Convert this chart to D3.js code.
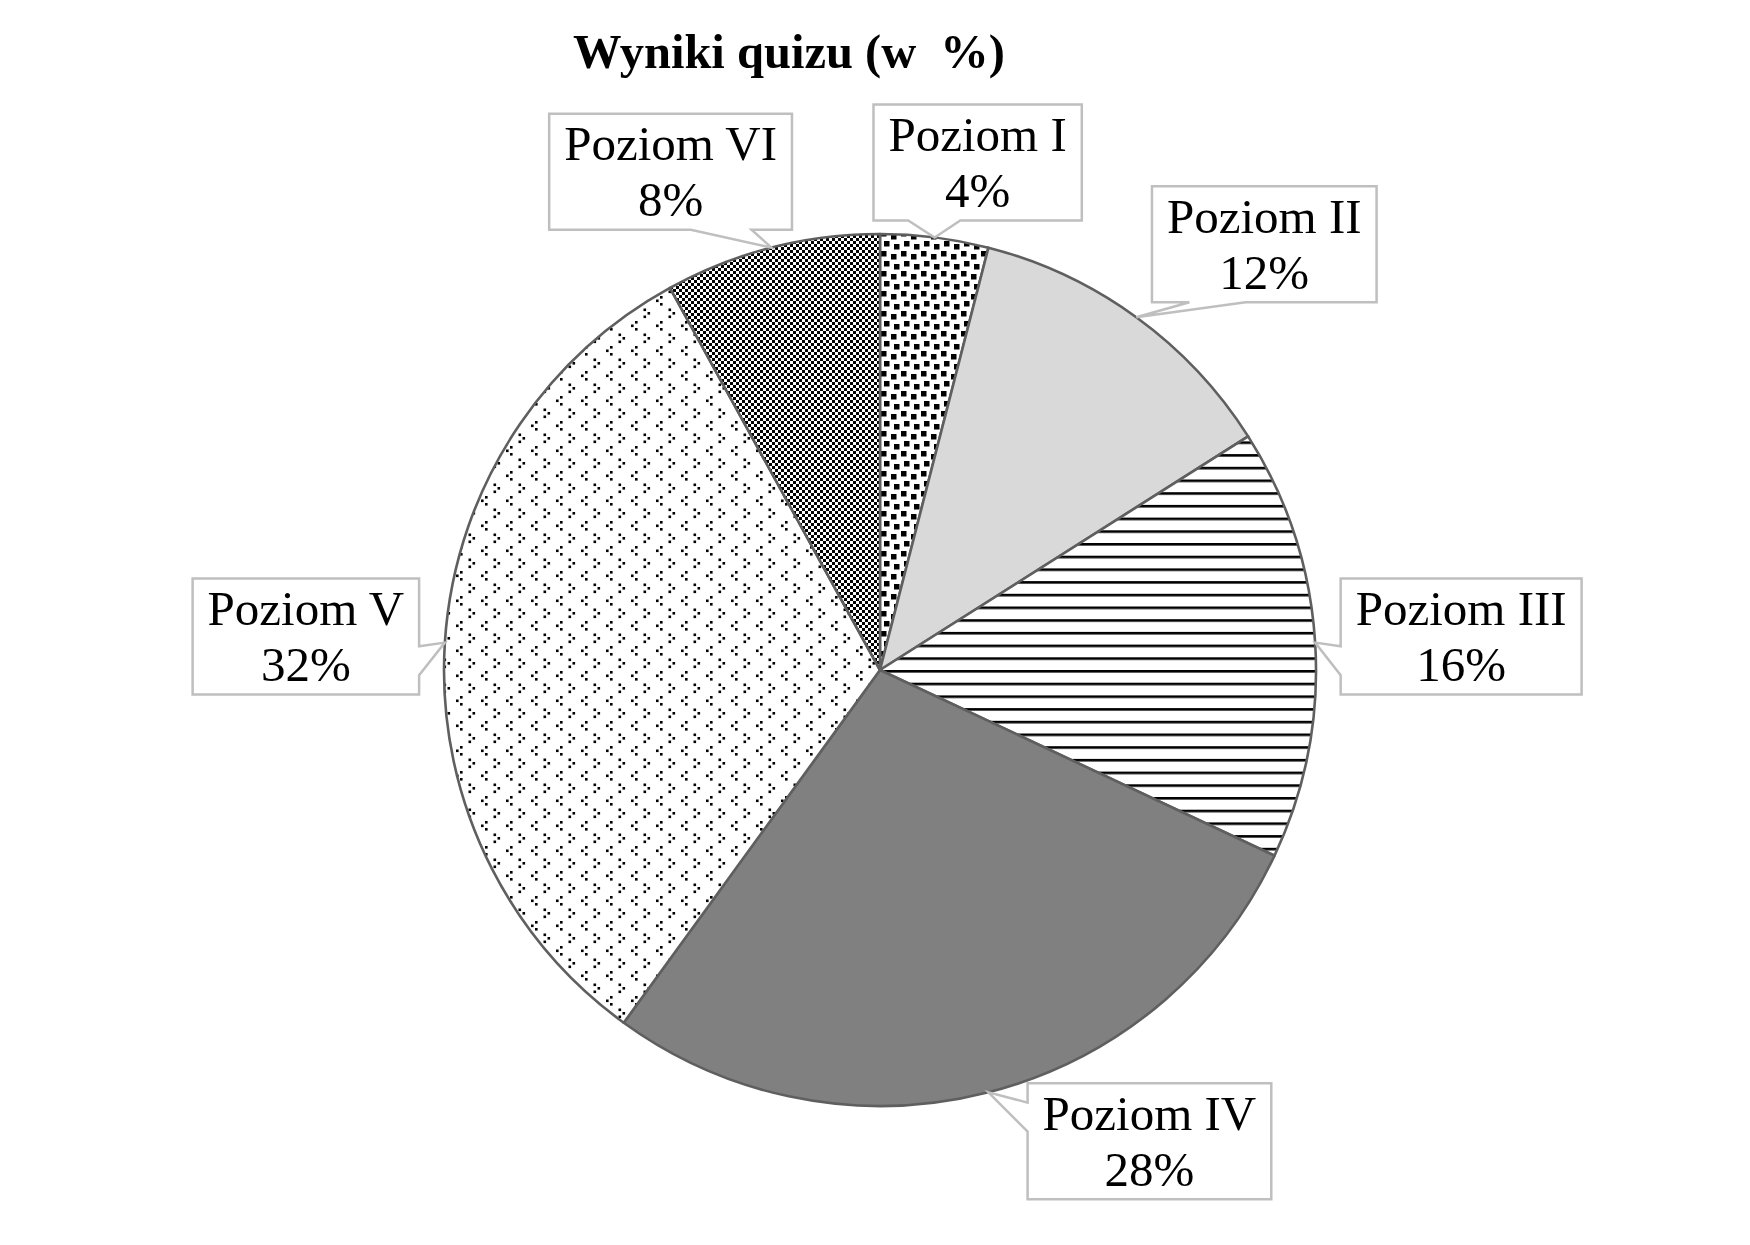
<!DOCTYPE html>
<html>
<head>
<meta charset="utf-8">
<script src="https://cdn.jsdelivr.net/npm/d3@7"></script>
<style>
  html, body { margin: 0; padding: 0; background: #fff; }
  svg { display: block; }
</style>
</head>
<body>
<script>
// ---- Data ----
const categories = ["Poziom I", "Poziom II", "Poziom III", "Poziom IV", "Poziom V", "Poziom VI"];
const values = [4, 12, 16, 28, 32, 8];
const titleParts = ["Wyniki quizu (w ", "%)"];

// ---- Styling / layout ----
const fills = ["url(#confetti)", "#d9d9d9", "url(#hlines)", "#808080", "url(#dots)", "url(#checker)"];
const labelOffsets = [[43, -75], [128, -73], [146, -6], [161, 49], [-139, -6], [-101, -76]];

const W = 1750, H = 1245;
const cx = 880, cy = 670, R = 436;
const fontFamily = "'Liberation Serif', 'Times New Roman', serif";

const svg = d3.select("body").append("svg").attr("width", W).attr("height", H);
svg.append("rect").attr("width", W).attr("height", H).attr("fill", "#fff");

// Patterns
const defs = svg.append("defs");
// checker (Poziom VI)
let p = defs.append("pattern").attr("id", "checker").attr("patternUnits", "userSpaceOnUse")
  .attr("width", 6).attr("height", 6);
p.append("rect").attr("width", 6).attr("height", 6).attr("fill", "#fff");
p.append("rect").attr("x", 0).attr("y", 0).attr("width", 3).attr("height", 3).attr("fill", "#000");
p.append("rect").attr("x", 3).attr("y", 3).attr("width", 3).attr("height", 3).attr("fill", "#000");
// horizontal lines (Poziom III)
p = defs.append("pattern").attr("id", "hlines").attr("patternUnits", "userSpaceOnUse")
  .attr("width", 10).attr("height", 12.7);
p.append("rect").attr("width", 10).attr("height", 12.7).attr("fill", "#fff");
p.append("rect").attr("x", 0).attr("y", 0).attr("width", 10).attr("height", 2.6).attr("fill", "#000");
// confetti (Poziom I)
p = defs.append("pattern").attr("id", "confetti").attr("patternUnits", "userSpaceOnUse")
  .attr("width", 20).attr("height", 20);
p.append("rect").attr("width", 20).attr("height", 20).attr("fill", "#fff");
[[1, 1], [11, 4], [4, 11], [14, 14]].forEach(([x, y]) =>
  p.append("rect").attr("x", x).attr("y", y).attr("width", 5.5).attr("height", 5.5).attr("fill", "#000"));
// small dot clusters (Poziom V)
p = defs.append("pattern").attr("id", "dots").attr("patternUnits", "userSpaceOnUse")
  .attr("width", 25).attr("height", 25);
p.append("rect").attr("width", 25).attr("height", 25).attr("fill", "#fff");
[[5, 1], [1, 4.5], [5, 8], [13.5, 13.5], [17.5, 17], [13.5, 20.5]].forEach(([x, y]) =>
  p.append("rect").attr("x", x).attr("y", y).attr("width", 2.6).attr("height", 2.6).attr("fill", "#000"));

// Title
const title = svg.append("text")
  .attr("x", 789).attr("y", 68)
  .attr("text-anchor", "middle")
  .attr("font-family", fontFamily)
  .attr("font-weight", "bold")
  .attr("font-size", 48.5)
  .attr("fill", "#000")
  .attr("xml:space", "preserve");
title.append("tspan").text(titleParts[0]);
title.append("tspan").attr("dx", 12).text(titleParts[1]);

// Pie
const pie = d3.pie().sort(null).value(d => d);
const arcs = pie(values);
const arc = d3.arc().innerRadius(0).outerRadius(R);

const g = svg.append("g").attr("transform", `translate(${cx},${cy})`);
g.selectAll("path.slice").data(arcs).join("path")
  .attr("class", "slice")
  .attr("d", arc)
  .attr("fill", (d, i) => fills[i])
  .attr("stroke", "#5f5f5f")
  .attr("stroke-width", 2.6)
  .attr("stroke-linejoin", "round");

// Callout labels
function calloutPath(bx, by, w, h, tx, ty) {
  const x0 = bx - w / 2, y0 = by - h / 2, x1 = bx + w / 2, y1 = by + h / 2;
  const dx = (tx - bx) / w, dy = (ty - by) / h;
  const pts = [];
  const tip = [tx, ty];
  if (Math.abs(dx) > Math.abs(dy)) {
    const ya = ty < by ? y0 + h * 2 / 12 : y0 + h * 7 / 12;
    const yb = ty < by ? y0 + h * 5 / 12 : y0 + h * 10 / 12;
    if (dx > 0) {
      pts.push([x0, y0], [x1, y0], [x1, ya], tip, [x1, yb], [x1, y1], [x0, y1]);
    } else {
      pts.push([x0, y0], [x1, y0], [x1, y1], [x0, y1], [x0, yb], tip, [x0, ya]);
    }
  } else {
    const xa = tx < bx ? x0 + w * 2 / 12 : x0 + w * 7 / 12;
    const xb = tx < bx ? x0 + w * 5 / 12 : x0 + w * 10 / 12;
    if (dy > 0) {
      pts.push([x0, y0], [x1, y0], [x1, y1], [xb, y1], tip, [xa, y1], [x0, y1]);
    } else {
      pts.push([x0, y0], [xa, y0], tip, [xb, y0], [x1, y0], [x1, y1], [x0, y1]);
    }
  }
  return "M" + pts.map(q => q.join(",")).join("L") + "Z";
}

const fontSize = 49, lineGap = 56, boxH = 116, padX = 15;
const labels = svg.append("g");
arcs.forEach((d, i) => {
  const a = (d.startAngle + d.endAngle) / 2;
  const tx = cx + R * Math.sin(a), ty = cy - R * Math.cos(a);
  const bx = tx + labelOffsets[i][0], by = ty + labelOffsets[i][1];
  const lg = labels.append("g");
  const path = lg.append("path");
  const t1 = lg.append("text")
    .attr("x", bx).attr("y", by - lineGap / 2 + 16.5)
    .attr("text-anchor", "middle")
    .attr("font-family", fontFamily).attr("font-size", fontSize).attr("fill", "#000")
    .text(categories[i]);
  const t2 = lg.append("text")
    .attr("x", bx).attr("y", by + lineGap / 2 + 16.5)
    .attr("text-anchor", "middle")
    .attr("font-family", fontFamily).attr("font-size", fontSize).attr("fill", "#000")
    .text(values[i] + "%");
  const tw = Math.max(t1.node().getComputedTextLength(), t2.node().getComputedTextLength());
  const w = tw + padX * 2;
  path.attr("d", calloutPath(bx, by, w, boxH, tx, ty))
    .attr("fill", "#fff")
    .attr("stroke", "#bfbfbf")
    .attr("stroke-width", 2.5)
    .attr("stroke-linejoin", "miter");
});
</script>
</body>
</html>
